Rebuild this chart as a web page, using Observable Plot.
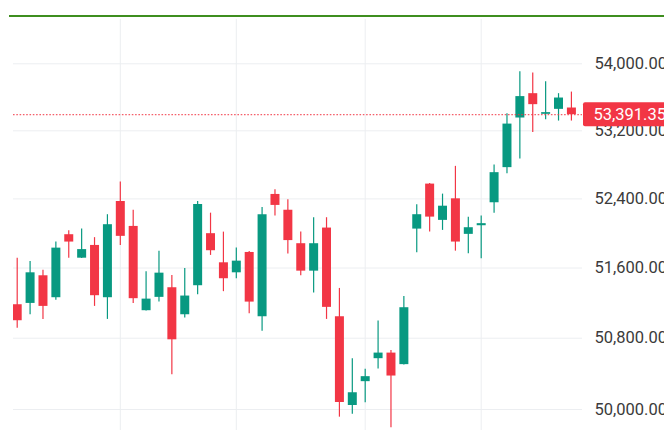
<!DOCTYPE html>
<html><head><meta charset="utf-8">
<script src="https://cdn.jsdelivr.net/npm/d3@7"></script>
<script src="https://cdn.jsdelivr.net/npm/@observablehq/plot@0.6"></script>
<style>
html,body{margin:0;padding:0;background:#fff;overflow:hidden}
#wrap{position:relative;width:664px;height:430px}
#topline{position:absolute;left:9px;right:0;top:14.5px;height:2px;background:#3e8e1f;z-index:2}
svg{display:block}
</style></head><body>
<div id="wrap"></div>
<script>
// Candle data (daily)
const opens  = [51180,51195,51511,51260,51984,51713,51860,51260,52370,52080,51112,51264,51374,51066,51397,51996,51660,51545,51779,51044,52452,52268,51880,51564,52061,51044,50045,50311,50569,50632,50502,52049,52573,52150,52401,51988,52088,52355,52766,53352,53642,53396,53455,53471];
const highs  = [51713,51675,51575,51899,52031,52051,51950,52216,52597,52269,51558,51794,51515,51594,52370,52234,52014,51829,51790,52300,52507,52390,52014,52181,52181,51366,50569,50449,50994,50662,51275,52332,52580,52456,52781,52185,52200,52797,53404,53905,53888,53785,53642,53661];
const lows   = [50914,51066,51013,51230,51713,51710,51161,51013,51860,51195,51108,51210,50389,51028,51294,51745,51329,51477,51078,50880,52200,51762,51511,51313,51013,49915,49948,50075,50452,49797,50498,51776,52014,52034,51794,51764,51706,52234,52695,52867,53181,53332,53316,53316];
const closes = [50998,51545,51161,51829,51899,51812,51283,52100,51965,51249,51244,51541,50782,51279,52335,51799,51477,51679,51210,52216,52324,51916,51564,51880,51150,50079,50187,50367,50632,50374,51146,52216,52188,52315,51899,52065,52112,52707,53280,53607,53511,53416,53590,53391.35];
// Vertical (time) gridline positions, by candle index
const timeGrid = [8, 17, 27, 36];
// Price axis ticks
const priceTicks = [50000, 50800, 51600, 52400, 53200, 54000];
const lastPrice = 53391.35;

const UP = "#089981", DOWN = "#f23645";
const candles = opens.map((o, i) => ({i, open: o, high: highs[i], low: lows[i], close: closes[i]}));
const fmt = d3.format(",.2f");

function lastPriceLabel(value) {
  return (index, scales, values, dimensions) => {
    const y = scales.y(value);
    const x0 = dimensions.width - dimensions.marginRight + 1;
    const g = d3.create("svg:g");
    g.append("rect").attr("x", x0).attr("y", y - 12).attr("width", dimensions.marginRight + 4)
      .attr("height", 24).attr("rx", 2).attr("fill", DOWN);
    g.append("text").attr("x", x0 + 10.5).attr("y", y).attr("dy", "0.36em")
      .attr("text-anchor", "start")
      .attr("fill", "#fff").attr("font-size", 16.5).attr("font-family", "Roboto, sans-serif").text(fmt(value));
    return g.node();
  };
}

const chart = Plot.plot({
  width: 664,
  height: 430,
  marginLeft: 13,
  marginRight: 82,
  marginTop: 19,
  marginBottom: 0,
  style: {fontFamily: "Roboto, sans-serif", fontSize: "16.5px", background: "#fff"},
  x: {type: "linear", domain: [-0.287, 43.86], axis: null},
  y: {type: "log", domain: [49767, 54535], axis: null},
  marks: [
    Plot.ruleY(priceTicks, {stroke: "#eceef1", strokeWidth: 1}),
    Plot.ruleX(timeGrid, {stroke: "#eceef1", strokeWidth: 1}),
    Plot.ruleX(candles, {x: "i", y1: "low", y2: "high", stroke: d => d.close >= d.open ? UP : DOWN, strokeWidth: 1.2, clip: true}),
    Plot.ruleX(candles, {x: "i", y1: "open", y2: "close", stroke: d => d.close >= d.open ? UP : DOWN, strokeWidth: 9, clip: true}),
    Plot.ruleY([lastPrice], {stroke: DOWN, strokeWidth: 1, strokeDasharray: "1.6,1.7"}),
    Plot.axisY(priceTicks, {anchor: "right", tickSize: 0, tickPadding: 12, tickFormat: fmt, fill: "#3b3b3b", fontSize: 16.5, label: null}),
    lastPriceLabel(lastPrice)
  ]
});

const wrap = document.getElementById("wrap");
wrap.appendChild(chart);
const line = document.createElement("div");
line.id = "topline";
wrap.appendChild(line);
</script>
</body></html>
